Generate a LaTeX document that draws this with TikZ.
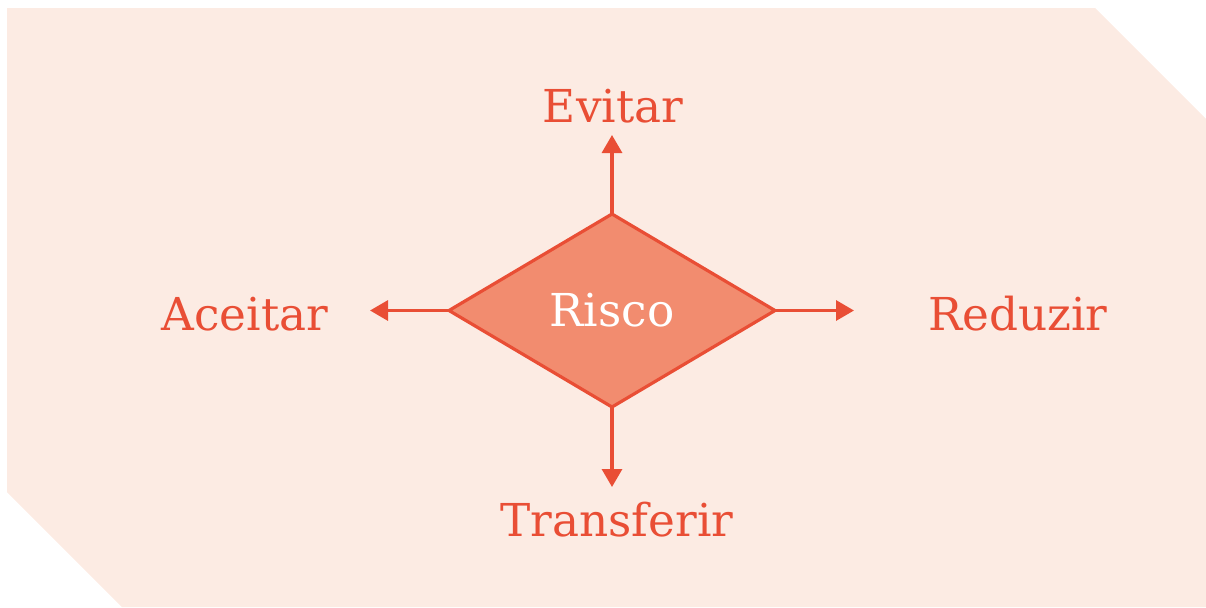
\documentclass[tikz,border=0pt]{standalone}
\usepackage{fontspec}
\setmainfont{DejaVu Serif}
\usetikzlibrary{shapes.geometric,arrows.meta}
\definecolor{bgc}{HTML}{FCEBE3}
\definecolor{redc}{HTML}{E94E35}
\definecolor{fillc}{HTML}{F28C6F}
\tikzset{
  lbl/.style={text=redc, font=\fontsize{34}{38}\selectfont, anchor=base, inner sep=0pt},
  conn/.style={draw=redc, line width=2.4pt, -{Triangle[width=15pt,length=13.5pt]}},
}
\begin{document}
\begin{tikzpicture}[x=0.75pt,y=-0.75pt]
\useasboundingbox (0,0) rectangle (1206,607);
\fill[bgc] (7,8) -- (1095,8) -- (1206,119) -- (1206,607) -- (122,607) -- (7,492) -- cycle;
\node[shape=diamond, draw=redc, fill=fillc, line width=2.4pt, minimum width=244.5pt, minimum height=144.75pt, inner sep=0pt, outer sep=0pt, text=white, font=\fontsize{34}{38}\selectfont] (r) at (612,310.5) {Risco};
\node[lbl] (ev) at (613,122) {Evitar};
\node[lbl] (ac) at (245,330) {Aceitar};
\node[lbl] (re) at (1018,330) {Reduzir};
\node[lbl] (tr) at (617,536) {Transferir};
\coordinate (et) at (612,135);
\coordinate (at) at (370,310.5);
\coordinate (rt) at (854,310.5);
\coordinate (tt) at (612,487);
\draw[conn] (r.north) -- (et);
\draw[conn] (r.west) -- (at);
\draw[conn] (r.east) -- (rt);
\draw[conn] (r.south) -- (tt);
\end{tikzpicture}
\end{document}
